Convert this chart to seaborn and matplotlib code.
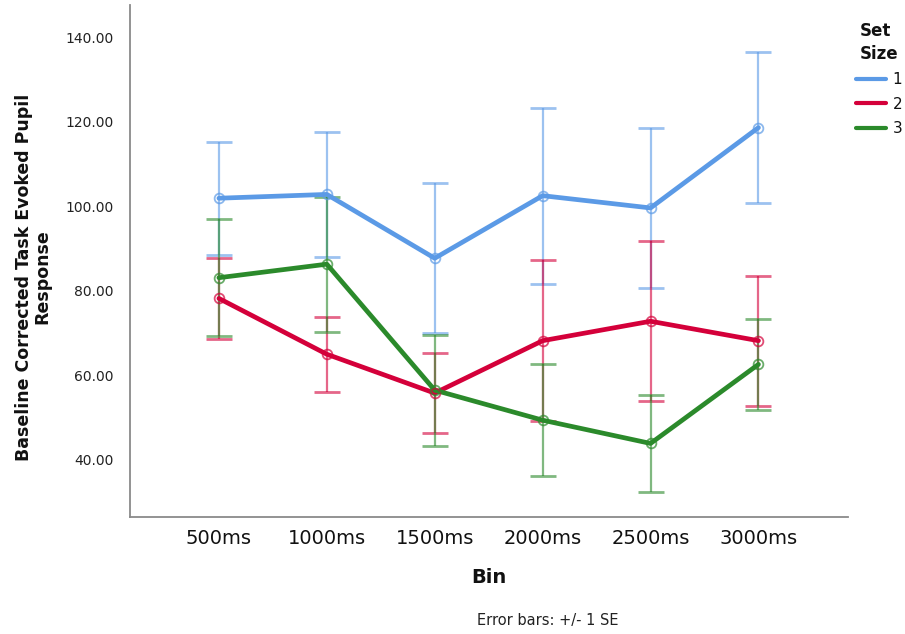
import numpy as np
import pandas as pd
import matplotlib
matplotlib.use("Agg")
import matplotlib.pyplot as plt
import seaborn as sns

# Time bins on the x axis
bins = ["500ms", "1000ms", "1500ms", "2000ms", "2500ms", "3000ms"]

# Mean baseline-corrected pupil response per set size
mean_size1 = [101.9, 102.8, 87.7, 102.5, 99.6, 118.6]
mean_size2 = [78.2, 65.0, 55.8, 68.2, 72.8, 68.2]
mean_size3 = [83.1, 86.3, 56.5, 49.4, 43.9, 62.6]

# Standard errors (+/- 1 SE)
se_size1 = [13.4, 14.7, 17.7, 20.8, 18.9, 17.9]
se_size2 = [9.5, 8.9, 9.4, 19.1, 18.9, 15.4]
se_size3 = [13.8, 16.0, 13.1, 13.2, 11.5, 10.8]

set_sizes = ["1", "2", "3"]
colors = {"1": "#5b9ae6", "2": "#d4003a", "3": "#2b8a2b"}

means = {"1": mean_size1, "2": mean_size2, "3": mean_size3}
ses = {"1": se_size1, "2": se_size2, "3": se_size3}

df = pd.DataFrame({
    "Bin": bins * 3,
    "Response": mean_size1 + mean_size2 + mean_size3,
    "SE": se_size1 + se_size2 + se_size3,
    "Set Size": [s for s in set_sizes for _ in bins],
})

sns.set_theme(style="white")
plt.rcParams["font.family"] = ["DejaVu Sans"]

fig = plt.figure(figsize=(9.05, 6.34), dpi=100)
ax = fig.add_axes([130 / 905, 1 - 517 / 634, 718 / 905, 512 / 634])

# Error bars and open circle markers
pos = np.arange(len(bins))
for s in set_sizes:
    ax.errorbar(pos, means[s], yerr=ses[s], fmt="none", ecolor=colors[s],
                elinewidth=1.6, capsize=9.5, capthick=2.0, alpha=0.6, zorder=2)

sns.lineplot(data=df, x="Bin", y="Response", hue="Set Size", palette=colors,
             hue_order=set_sizes, linewidth=3.4, sort=False, ax=ax, zorder=3)

for s in set_sizes:
    ax.plot(pos, means[s], linestyle="none", marker="o", markersize=7,
            markerfacecolor="none", markeredgecolor=colors[s],
            markeredgewidth=1.3, alpha=0.7, zorder=4)

ax.set_xlim(-0.824, 5.83)
ax.set_ylim(26.5, 147.6)
ax.set_yticks([40, 60, 80, 100, 120, 140])
ax.set_yticklabels([f"{v:.2f}" for v in [40, 60, 80, 100, 120, 140]])
ax.tick_params(axis="y", length=0, pad=12, labelsize=10, labelcolor="#222222")
ax.tick_params(axis="x", length=0, pad=9, labelsize=14, labelcolor="#111111")

for side in ["top", "right"]:
    ax.spines[side].set_visible(False)
for side in ["left", "bottom"]:
    ax.spines[side].set_color("#8a8a8a")
    ax.spines[side].set_linewidth(1.3)

ax.set_xlabel("Bin", fontsize=14, fontweight="bold", labelpad=14,
              color="#111111")
ax.set_ylabel("")
fig.text(33 / 905, 1 - 277 / 634,
         "Baseline Corrected Task Evoked Pupil\nResponse",
         rotation=90, ha="center", va="center", multialignment="center",
         fontsize=12.5, fontweight="bold", linespacing=1.0, color="#111111")

fig.text(548 / 905, 1 - 620 / 634, "Error bars: +/- 1 SE",
         ha="center", va="center", fontsize=10.5, color="#222222")

leg = ax.legend(title="Set\nSize", loc="upper left",
                bbox_to_anchor=(836 / 905, 1 - 2 / 634),
                bbox_transform=fig.transFigure, frameon=False,
                fontsize=11, title_fontproperties={"weight": "bold", "size": 12},
                handlelength=2.0, handletextpad=0.4, labelspacing=0.62,
                borderpad=1.3, borderaxespad=0)
leg.get_title().set_color("#111111")
leg.get_title().set_linespacing(1.35)
for t in leg.get_texts():
    t.set_color("#111111")
for line in leg.get_lines():
    line.set_linewidth(3)

fig.savefig("out.png", dpi=100)
